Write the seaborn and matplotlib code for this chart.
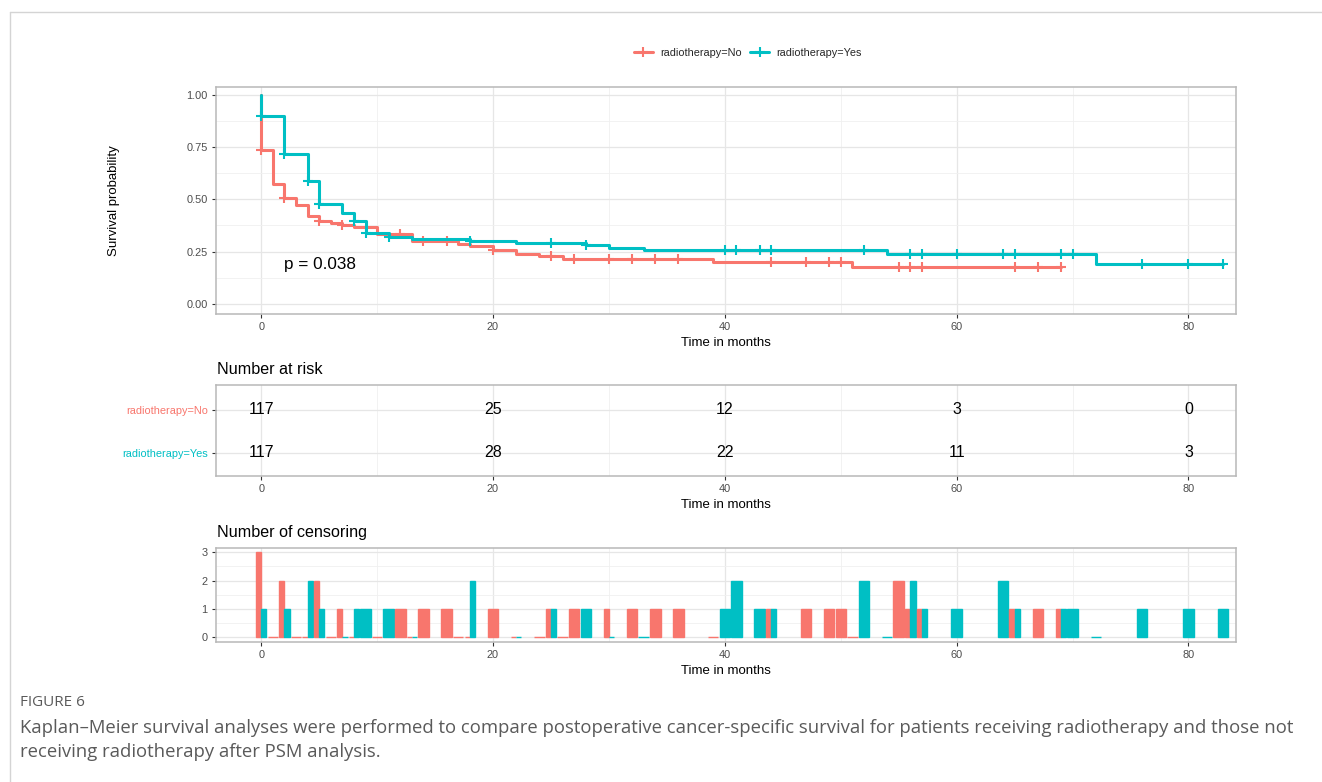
import numpy as np
import pandas as pd
import matplotlib
matplotlib.use("Agg")
import matplotlib.pyplot as plt
import seaborn as sns
from matplotlib.lines import Line2D
from matplotlib.ticker import MultipleLocator

# ---------------- data ----------------
groups = ["radiotherapy=No", "radiotherapy=Yes"]
colors = ["#F8766D", "#00BFC4"]

# Kaplan-Meier step curves
no_time = [0, 0, 1, 2, 3, 4, 5, 6, 7, 8, 10, 13, 17, 18, 20, 22, 24, 26, 39, 51, 69]
no_surv = [1.0, 0.737, 0.572, 0.508, 0.472, 0.420, 0.397, 0.388, 0.378, 0.370,
           0.334, 0.299, 0.286, 0.275, 0.259, 0.240, 0.227, 0.216, 0.201, 0.174, 0.174]
yes_time = [0, 0, 2, 4, 5, 7, 8, 9, 11, 13, 18, 22, 28, 30, 33, 54, 72, 83]
yes_surv = [1.0, 0.900, 0.720, 0.589, 0.480, 0.433, 0.397, 0.341, 0.318, 0.310,
            0.299, 0.291, 0.280, 0.267, 0.255, 0.239, 0.192, 0.192]

# censoring marks (+)
no_cens = [0, 2, 5, 7, 12, 14, 16, 20, 25, 27, 30, 32, 34, 36, 44, 47, 49, 50,
           55, 56, 57, 65, 67, 69]
yes_cens = [0, 2, 4, 5, 8, 9, 11, 18, 25, 28, 40, 41, 43, 44, 52, 56, 57, 60,
            64, 65, 69, 70, 76, 80, 83]

# number of censoring per recorded time
no_bar_t = [0, 1, 2, 3, 4, 5, 6, 7, 8, 10, 12, 13, 14, 16, 17, 18, 20, 22, 24, 25,
            26, 27, 30, 32, 34, 36, 39, 44, 47, 49, 50, 51, 55, 56, 57, 65, 67, 69]
no_bar_n = [3, 0, 2, 0, 0, 2, 0, 1, 0, 0, 1, 0, 1, 1, 0, 0, 1, 0, 0, 1,
            0, 1, 1, 1, 1, 1, 0, 1, 1, 1, 1, 0, 2, 1, 1, 1, 1, 1]
yes_bar_t = [0, 2, 4, 5, 7, 8, 9, 11, 13, 18, 22, 25, 28, 30, 33, 40, 41, 43, 44, 52,
             54, 56, 57, 60, 64, 65, 69, 70, 72, 76, 80, 83]
yes_bar_n = [1, 1, 2, 1, 0, 1, 1, 1, 0, 2, 0, 1, 1, 0, 0, 1, 2, 1, 1, 2,
             0, 2, 1, 1, 2, 1, 1, 1, 0, 1, 1, 1]

# number at risk table
risk_times = [0, 20, 40, 60, 80]
risk_no = [117, 25, 12, 3, 0]
risk_yes = [117, 28, 22, 11, 3]

p_text = "p = 0.038"
fig_label = "FIGURE 6"
caption_1 = ("Kaplan\u2013Meier survival analyses were performed to compare postoperative "
             "cancer-specific survival for patients receiving radiotherapy and those not")
caption_2 = "receiving radiotherapy after PSM analysis."

# ---------------- style ----------------
sns.set_theme(style="white")
plt.rcParams["font.family"] = ["Liberation Sans", "DejaVu Sans"]

W, H = 1322, 782
fig = plt.figure(figsize=(W / 100, H / 100), dpi=100)
fig.patch.set_facecolor("white")

def fx(px):
    return px / W

def fy(py):
    return 1 - py / H

def make_axes(top, bottom):
    return fig.add_axes([fx(216), fy(bottom), fx(1236) - fx(216), fy(top) - fy(bottom)])

TICK_COL = "#4d4d4d"
GRID_MAJ = "#e6e6e6"
GRID_MIN = "#f0f0f0"
BORDER = "#b8b8b8"
XLIM = (-3.9, 84.1)

def style_axes(ax, xlabel=True):
    ax.set_facecolor("white")
    for s in ax.spines.values():
        s.set_color(BORDER)
        s.set_linewidth(1.1)
    ax.set_xlim(*XLIM)
    ax.xaxis.set_major_locator(MultipleLocator(20))
    ax.xaxis.set_minor_locator(MultipleLocator(10))
    ax.grid(which="major", color=GRID_MAJ, lw=0.9)
    ax.grid(which="minor", color=GRID_MIN, lw=0.6)
    ax.set_axisbelow(True)
    ax.tick_params(which="major", direction="out", length=3, width=0.8, color="#333333",
                   labelsize=7.9, labelcolor=TICK_COL, pad=3, left=True, bottom=True)
    ax.tick_params(which="minor", length=0)
    if xlabel:
        ax.set_xlabel("Time in months", fontsize=9.5, color="black", labelpad=3)

# ---------------- main survival plot ----------------
ax1 = make_axes(87, 314)
style_axes(ax1)
ax1.set_ylim(-0.05, 1.04)
ax1.yaxis.set_major_locator(MultipleLocator(0.25))
ax1.yaxis.set_minor_locator(MultipleLocator(0.125))
ax1.yaxis.set_major_formatter(matplotlib.ticker.FormatStrFormatter("%.2f"))

curves = [(no_time, no_surv, no_cens), (yes_time, yes_surv, yes_cens)]
for (t, s, cens), c, g in zip(curves, colors, groups):
    d = pd.DataFrame({"time": t, "surv": s})
    sns.lineplot(data=d, x="time", y="surv", ax=ax1, color=c, lw=2.2,
                 estimator=None, sort=False, drawstyle="steps-post", legend=False)
    idx = np.searchsorted(np.array(t), np.array(cens), side="right") - 1
    ax1.plot(cens, np.array(s)[idx], ls="none", marker="+", ms=7.5, mew=1.5, color=c)

ax1.set_ylabel("Survival probability", fontsize=9.5, color="black")
ax1.yaxis.set_label_coords(-0.094, 0.5)
ax1.text(2, 0.19, p_text, fontsize=12.3, color="black", ha="left", va="center")

handles = [Line2D([], [], color=c, lw=2.2, marker="+", ms=7.5, mew=1.5) for c in colors]
fig.legend(handles, groups, loc="center", bbox_to_anchor=(fx(748), fy(53)), ncol=2,
           frameon=False, fontsize=7.8, handlelength=1.7, handletextpad=0.7,
           columnspacing=0.8)

# ---------------- number at risk ----------------
fig.text(fx(217), fy(369), "Number at risk", fontsize=11.6, ha="left", va="center", color="black")
ax2 = make_axes(385, 476)
style_axes(ax2)
ax2.set_ylim(-0.54, 1.58)
ax2.set_yticks([1, 0])
ax2.set_yticklabels(groups)
for lab, c in zip(ax2.get_yticklabels(), colors):
    lab.set_color(c)
for rt, rn, ry in zip(risk_times, risk_no, risk_yes):
    ax2.text(rt, 1, str(rn), ha="center", va="center", fontsize=11.5, color="black")
    ax2.text(rt, 0, str(ry), ha="center", va="center", fontsize=11.5, color="black")

# ---------------- number of censoring ----------------
fig.text(fx(217), fy(533), "Number of censoring", fontsize=11.6, ha="left", va="center", color="black")
ax3 = make_axes(548, 642)
style_axes(ax3)
ax3.set_ylim(-0.16, 3.15)
ax3.yaxis.set_major_locator(MultipleLocator(1))
ax3.yaxis.set_minor_locator(MultipleLocator(0.5))

bar_sets = [dict(zip(no_bar_t, no_bar_n)), dict(zip(yes_bar_t, yes_bar_n))]
all_t = sorted(set(no_bar_t) | set(yes_bar_t))
bw = 0.9
for tt in all_t:
    present = [i for i in range(2) if tt in bar_sets[i]]
    w = bw / len(present)
    for k, i in enumerate(present):
        x0 = tt - bw / 2 + k * w
        ax3.bar(x0, bar_sets[i][tt], width=w, align="edge", color=colors[i],
                edgecolor=colors[i], linewidth=1.0, zorder=3)

# ---------------- frame & caption ----------------
fig.add_artist(Line2D([fx(10), 1], [fy(12), fy(12)], color="#d4d4d4", lw=1.0))
fig.add_artist(Line2D([fx(10), fx(10)], [fy(12), 0], color="#d4d4d4", lw=1.0))

cap_font = ["Open Sans", "DejaVu Sans"]
t0 = fig.text(fx(20), fy(702), fig_label, fontsize=9, color="#5a5a5a", ha="left",
              va="center", family=cap_font)
t1 = fig.text(fx(20), fy(728), caption_1, fontsize=12, color="#5a5a5a", ha="left",
              va="center", family=cap_font)
t2 = fig.text(fx(20), fy(752), caption_2, fontsize=12, color="#5a5a5a", ha="left",
              va="center", family=cap_font)
renderer = fig.canvas.get_renderer()
w1 = t1.get_window_extent(renderer).width
fs = 12 * 1268 / w1
t1.set_fontsize(fs)
t2.set_fontsize(fs)
w0 = t0.get_window_extent(renderer).width
t0.set_fontsize(9 * 65 / w0)

fig.savefig("out.png", dpi=100, facecolor="white")
